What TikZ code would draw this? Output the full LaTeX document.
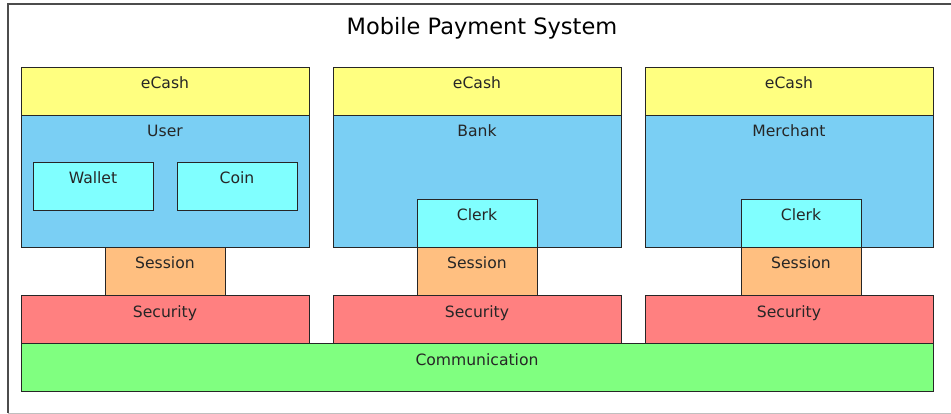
\documentclass[tikz,border=0pt]{standalone}
\usepackage{fontspec}
\setmainfont{DejaVu Sans}
\usetikzlibrary{positioning}

\definecolor{ecashyellow}{HTML}{FFFF80}
\definecolor{hostblue}{HTML}{7ACFF4}
\definecolor{partcyan}{HTML}{80FFFF}
\definecolor{sessionorange}{HTML}{FFBF80}
\definecolor{securityred}{HTML}{FF8080}
\definecolor{commgreen}{HTML}{80FF80}

\tikzset{
    layer/.style n args={3}{draw=black!85, line width=0.9pt, fill=#1,
        minimum width=#2, minimum height=#3, anchor=north west,
        inner sep=0pt, outer sep=0pt},
    layertext/.style={anchor=base, yshift=-22pt, inner sep=0pt,
        text=black!85, font=\fontsize{15.6}{18}\selectfont}
}

\begin{document}
\begin{tikzpicture}[x=1pt, y=-1pt]
                \newcommand{\colwidth}{288pt}
                \newcommand{\rowheight}{48pt}
                \useasboundingbox (0,0) rectangle (951,414);

                % Outer frame
                \draw[black!70, line width=1.5pt] (960,4) -- (8,4) -- (8,413);
                \draw[black!25, line width=1pt] (8,413) -- (960,413);
                \node[anchor=base, inner sep=0pt, font=\fontsize{22.5}{26}\selectfont] (title) at (482,35) {Mobile Payment System};

                % Draw the three stacks
                \foreach \x/\host/\name/\off in {21/User/user/84, 333/Bank/bank/84, 645/Merchant/merchant/96} {
                    \node[layer={ecashyellow}{\colwidth}{\rowheight}, label={[layertext]north:eCash}] (ecash-\name) at (\x,67) {};
                    \node[layer={hostblue}{\colwidth}{132pt}, label={[layertext]north:\host}] (\name) at (\x,115) {};
                    \node[layer={sessionorange}{120pt}{\rowheight}, label={[layertext]north:Session}] (session-\name) at (\x+\off,247) {};
                    \node[layer={securityred}{\colwidth}{\rowheight}, label={[layertext]north:Security}] (security-\name) at (\x,295) {};
                }

                % Draw parts inside the hosts
                \node[layer={partcyan}{120pt}{\rowheight}, label={[layertext]north:Wallet}] (wallet) at (33,162) {};
                \node[layer={partcyan}{120pt}{\rowheight}, label={[layertext]north:Coin}] (coin) at (177,162) {};
                \node[layer={partcyan}{120pt}{\rowheight}, label={[layertext]north:Clerk}] (clerk-bank) at (417,199) {};
                \node[layer={partcyan}{120pt}{\rowheight}, label={[layertext]north:Clerk}] (clerk-merchant) at (741,199) {};

                % Shared bottom layer
                \node[layer={commgreen}{912pt}{\rowheight}, label={[layertext]north:Communication}] (comm) at (21,343) {};
            \end{tikzpicture}
\end{document}
